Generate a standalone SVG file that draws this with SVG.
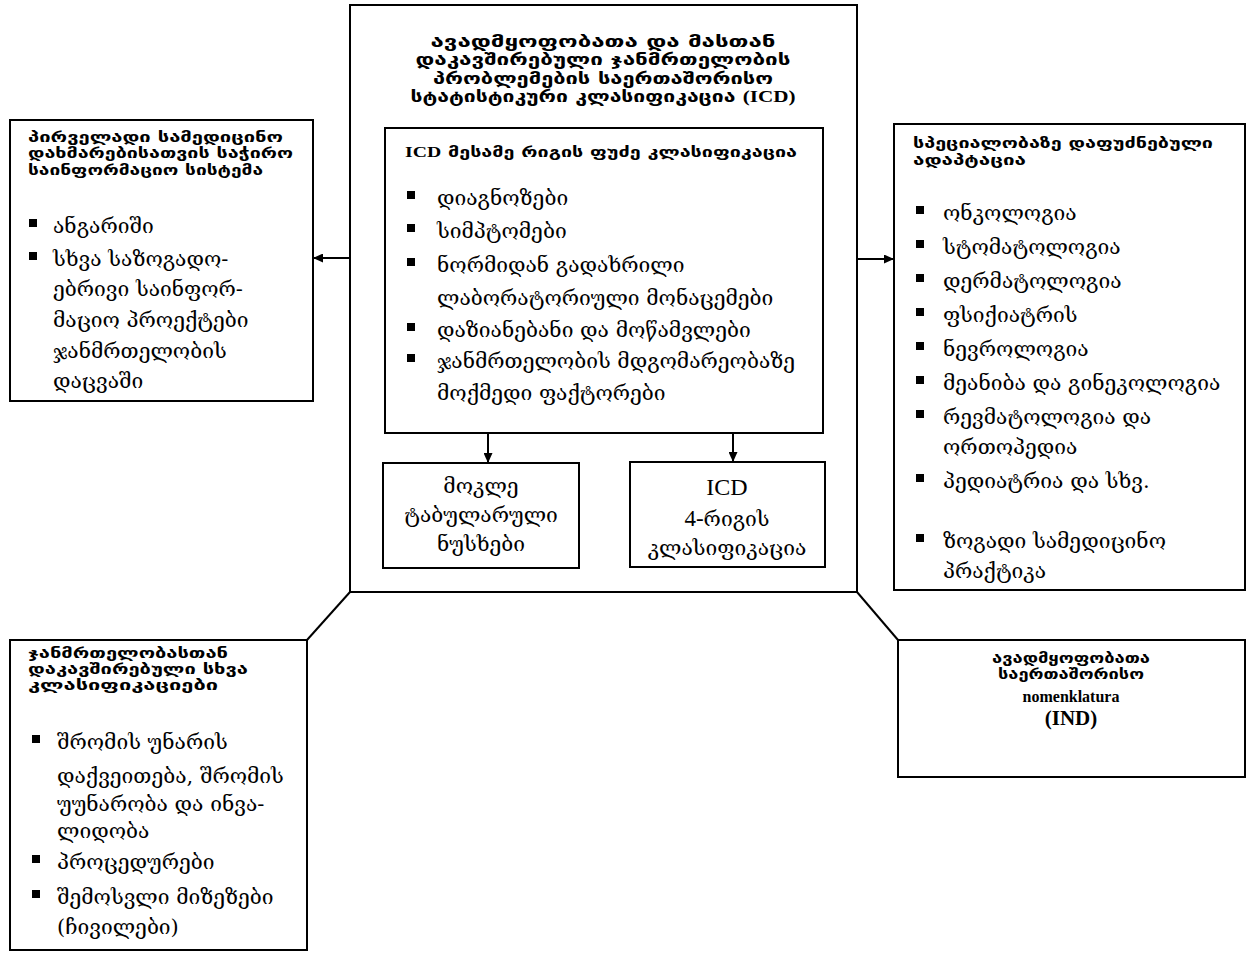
<svg xmlns="http://www.w3.org/2000/svg" width="1249" height="954" viewBox="0 0 1249 954">
<style>
.box{fill:#fff;stroke:#000;stroke-width:2}
.h{font-family:"DejaVu Sans",sans-serif;font-weight:bold;font-size:15px;fill:#000}
.t{font-size:16px}
.b{font-family:"DejaVu Serif","DejaVu Sans",serif;font-size:21px;fill:#000}
.lat{font-family:"Liberation Serif",serif}
.blt{fill:#000}
.c{text-anchor:middle}
.con{stroke:#000;stroke-width:2;fill:none}
</style>
<defs>
<marker id="ah" markerUnits="userSpaceOnUse" markerWidth="11" markerHeight="9" refX="10" refY="4.5" orient="auto">
<path d="M0,0 L10,4.5 L0,9 z" fill="#000"/>
</marker>
</defs>
<rect width="1249" height="954" fill="#fff"/>

<g id="main">
<rect class="box" x="350" y="5" width="507" height="587"/>
<text class="h t c" x="603" y="47" textLength="345" lengthAdjust="spacingAndGlyphs">ავადმყოფობათა და მასთან</text>
<text class="h t c" x="603" y="65" textLength="375" lengthAdjust="spacingAndGlyphs">დაკავშირებული ჯანმრთელობის</text>
<text class="h t c" x="603" y="84" textLength="340" lengthAdjust="spacingAndGlyphs">პრობლემების საერთაშორისო</text>
<text class="h t c" x="603" y="102" textLength="385" lengthAdjust="spacingAndGlyphs">სტატისტიკური კლასიფიკაცია <tspan class="lat">(ICD)</tspan></text>
</g>

<g id="icd3">
<rect class="box" x="385" y="128" width="438" height="305"/>
<text class="h" x="405" y="157" textLength="392" lengthAdjust="spacingAndGlyphs"><tspan class="lat">ICD</tspan> მესამე რიგის ფუძე კლასიფიკაცია</text>
<rect class="blt" x="407" y="191" width="8" height="8"/>
<text class="b" x="437" y="205">დიაგნოზები</text>
<rect class="blt" x="407" y="224" width="8" height="8"/>
<text class="b" x="437" y="238">სიმპტომები</text>
<rect class="blt" x="407" y="258" width="8" height="8"/>
<text class="b" x="437" y="272">ნორმიდან გადახრილი</text>
<text class="b" x="437" y="305">ლაბორატორიული მონაცემები</text>
<rect class="blt" x="407" y="323" width="8" height="8"/>
<text class="b" x="437" y="337">დაზიანებანი და მოწამვლები</text>
<rect class="blt" x="407" y="354" width="8" height="8"/>
<text class="b" x="437" y="368">ჯანმრთელობის მდგომარეობაზე</text>
<text class="b" x="437" y="400">მოქმედი ფაქტორები</text>
</g>

<g id="tabular">
<rect class="box" x="383" y="463" width="196" height="105"/>
<text class="b c" x="481" y="493">მოკლე</text>
<text class="b c" x="481" y="522">ტაბულარული</text>
<text class="b c" x="481" y="551">ნუსხები</text>
</g>

<g id="icd4">
<rect class="box" x="630" y="462" width="195" height="105"/>
<text class="b lat c" x="727" y="495" style="font-size:24px">ICD</text>
<text class="b c" x="727" y="526"><tspan class="lat" style="font-size:23px">4-</tspan>რიგის</text>
<text class="b c" x="727" y="555">კლასიფიკაცია</text>
</g>

<g id="primary">
<rect class="box" x="10" y="120" width="303" height="281"/>
<text class="h" x="28" y="142" textLength="255" lengthAdjust="spacingAndGlyphs">პირველადი სამედიცინო</text>
<text class="h" x="28" y="158" textLength="265" lengthAdjust="spacingAndGlyphs">დახმარებისათვის საჭირო</text>
<text class="h" x="28" y="175" textLength="235" lengthAdjust="spacingAndGlyphs">საინფორმაციო სისტემა</text>
<rect class="blt" x="29" y="219" width="8" height="8"/>
<text class="b" x="53" y="233">ანგარიში</text>
<rect class="blt" x="29" y="252" width="8" height="8"/>
<text class="b" x="53" y="266">სხვა საზოგადო-</text>
<text class="b" x="53" y="296">ებრივი საინფორ-</text>
<text class="b" x="53" y="327">მაციო პროექტები</text>
<text class="b" x="53" y="358">ჯანმრთელობის</text>
<text class="b" x="53" y="388">დაცვაში</text>
</g>

<g id="specialty">
<rect class="box" x="894" y="124" width="351" height="466"/>
<text class="h" x="913" y="148" textLength="300" lengthAdjust="spacingAndGlyphs">სპეციალობაზე დაფუძნებული</text>
<text class="h" x="913" y="165" textLength="113" lengthAdjust="spacingAndGlyphs">ადაპტაცია</text>
<rect class="blt" x="916" y="206" width="8" height="8"/>
<text class="b" x="943" y="220">ონკოლოგია</text>
<rect class="blt" x="916" y="240" width="8" height="8"/>
<text class="b" x="943" y="254">სტომატოლოგია</text>
<rect class="blt" x="916" y="274" width="8" height="8"/>
<text class="b" x="943" y="288">დერმატოლოგია</text>
<rect class="blt" x="916" y="308" width="8" height="8"/>
<text class="b" x="943" y="322">ფსიქიატრის</text>
<rect class="blt" x="916" y="342" width="8" height="8"/>
<text class="b" x="943" y="356">ნევროლოგია</text>
<rect class="blt" x="916" y="376" width="8" height="8"/>
<text class="b" x="943" y="390">მეანიბა და გინეკოლოგია</text>
<rect class="blt" x="916" y="410" width="8" height="8"/>
<text class="b" x="943" y="424">რევმატოლოგია და</text>
<text class="b" x="943" y="454">ორთოპედია</text>
<rect class="blt" x="916" y="474" width="8" height="8"/>
<text class="b" x="943" y="488">პედიატრია და სხვ.</text>
<rect class="blt" x="916" y="534" width="8" height="8"/>
<text class="b" x="943" y="548">ზოგადი სამედიცინო</text>
<text class="b" x="943" y="578">პრაქტიკა</text>
</g>

<g id="other">
<rect class="box" x="10" y="640" width="297" height="310"/>
<text class="h" x="28" y="658" textLength="200" lengthAdjust="spacingAndGlyphs">ჯანმრთელობასთან</text>
<text class="h" x="28" y="674" textLength="220" lengthAdjust="spacingAndGlyphs">დაკავშირებული სხვა</text>
<text class="h" x="28" y="690" textLength="190" lengthAdjust="spacingAndGlyphs">კლასიფიკაციები</text>
<rect class="blt" x="32" y="735" width="8" height="8"/>
<text class="b" x="57" y="749">შრომის უნარის</text>
<text class="b" x="57" y="783">დაქვეითება, შრომის</text>
<text class="b" x="57" y="811">უუნარობა და ინვა-</text>
<text class="b" x="57" y="838">ლიდობა</text>
<rect class="blt" x="32" y="855" width="8" height="8"/>
<text class="b" x="57" y="869">პროცედურები</text>
<rect class="blt" x="32" y="890" width="8" height="8"/>
<text class="b" x="57" y="904">შემოსვლი მიზეზები</text>
<text class="b" x="57" y="934">(ჩივილები)</text>
</g>

<g id="ind">
<rect class="box" x="898" y="640" width="347" height="137"/>
<text class="h c" x="1071" y="663" textLength="158" lengthAdjust="spacingAndGlyphs">ავადმყოფობათა</text>
<text class="h c" x="1071" y="679" textLength="146" lengthAdjust="spacingAndGlyphs">საერთაშორისო</text>
<text class="h lat c" x="1071" y="702" style="font-size:16px">nomenklatura</text>
<text class="h lat c" x="1071" y="725" style="font-size:21px">(IND)</text>
</g>

<g id="connectors">
<line class="con" x1="350" y1="258" x2="313" y2="258" marker-end="url(#ah)"/>
<line class="con" x1="857" y1="259" x2="894" y2="259" marker-end="url(#ah)"/>
<line class="con" x1="488" y1="433" x2="488" y2="463" marker-end="url(#ah)"/>
<line class="con" x1="733" y1="433" x2="733" y2="462" marker-end="url(#ah)"/>
<line class="con" x1="350" y1="592" x2="307" y2="640"/>
<line class="con" x1="857" y1="592" x2="898" y2="640"/>
</g>
</svg>
